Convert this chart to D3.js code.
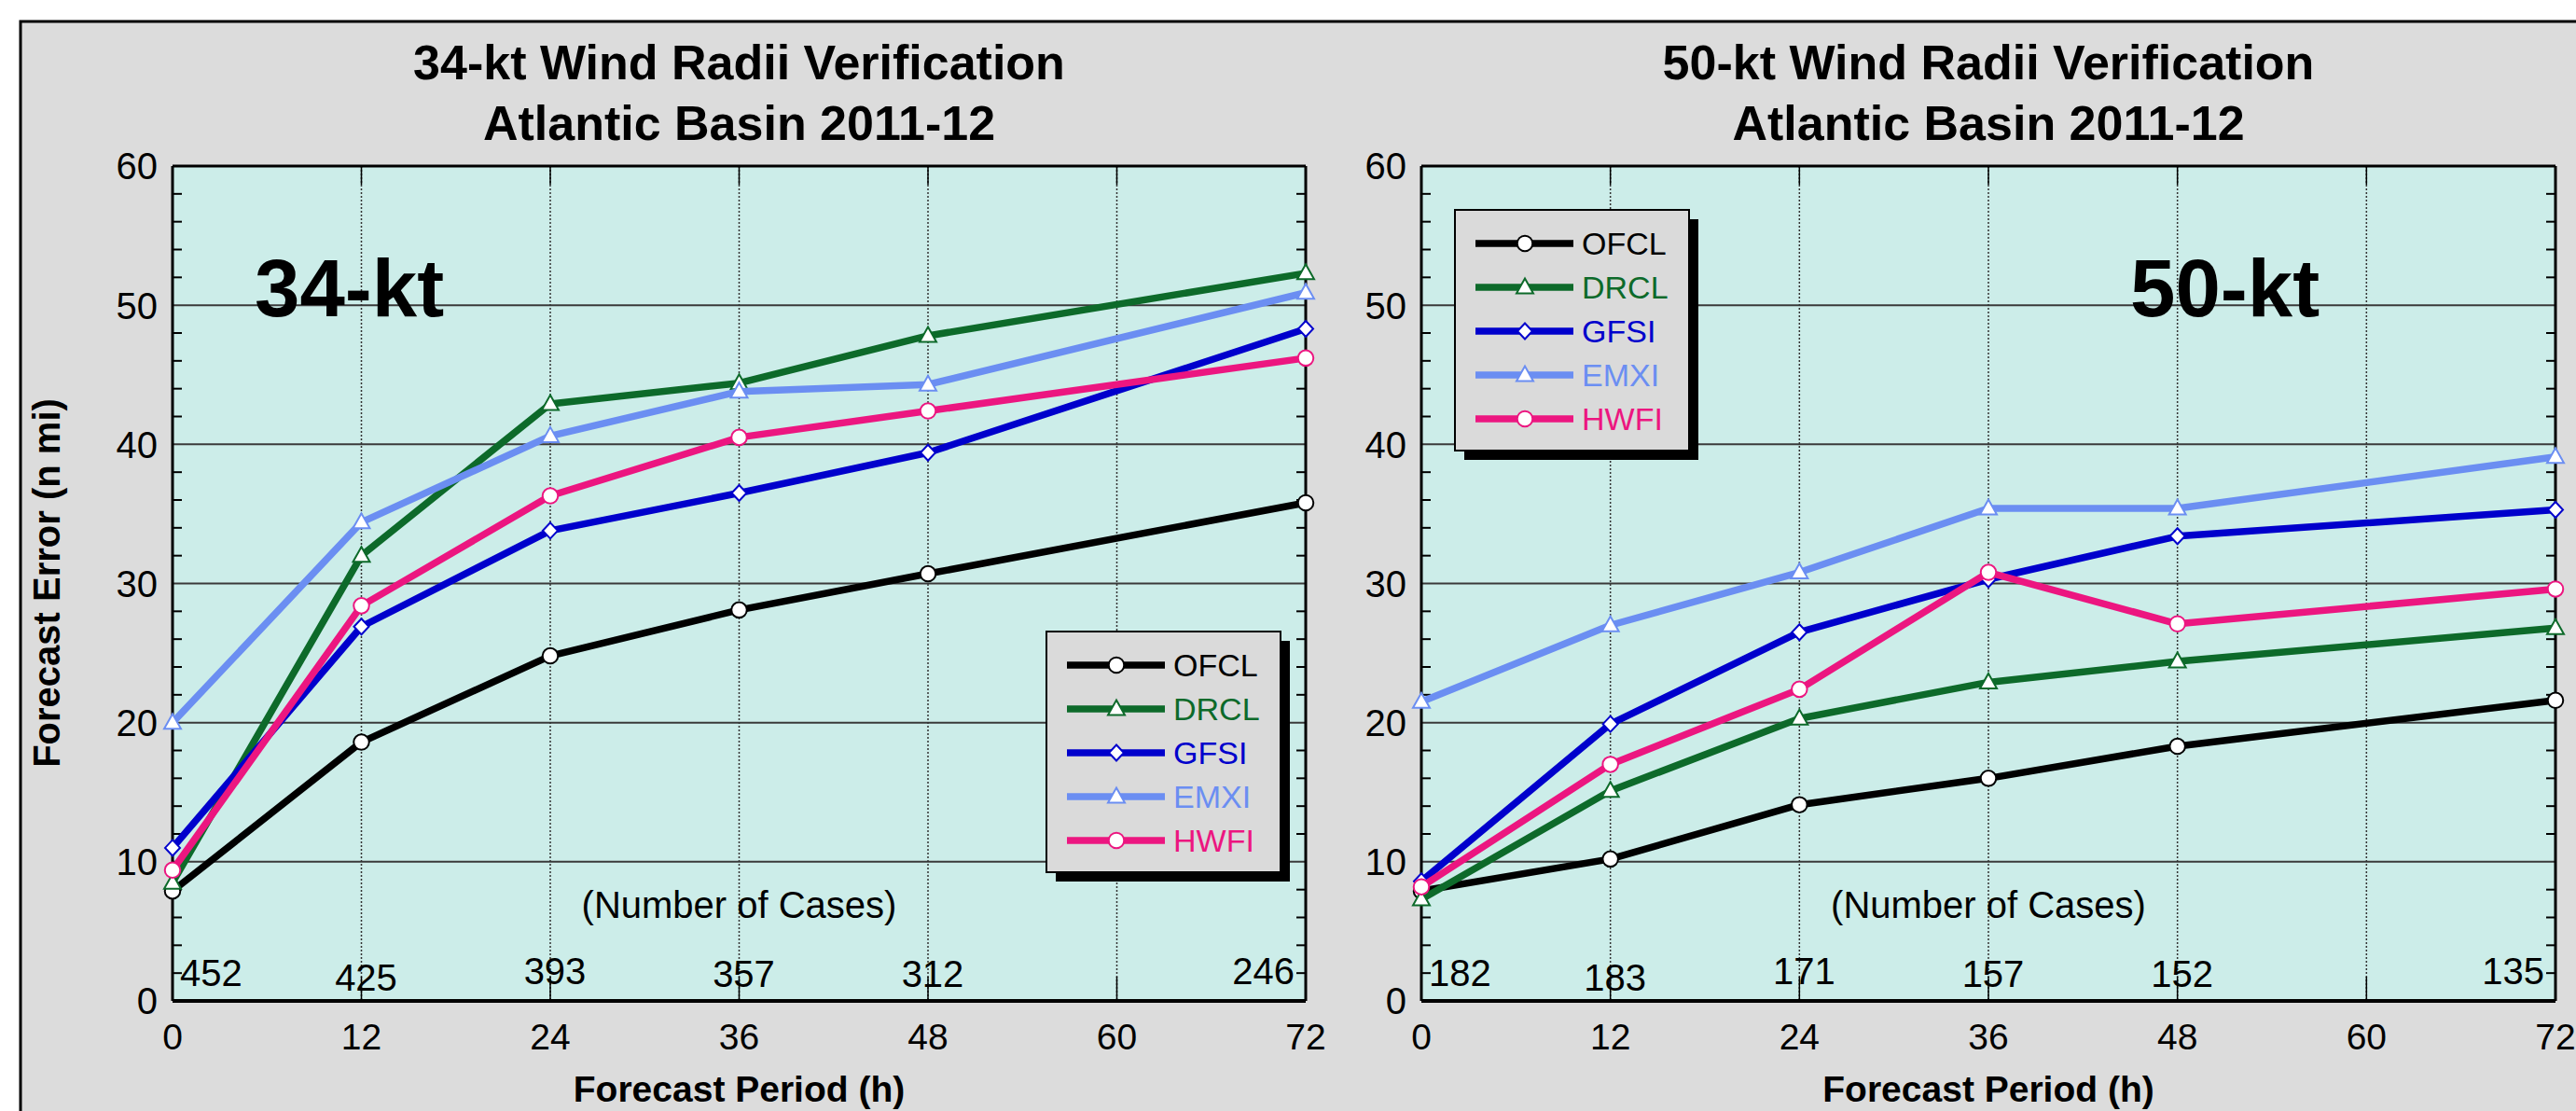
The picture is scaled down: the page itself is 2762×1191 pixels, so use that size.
<!DOCTYPE html>
<html>
<head>
<meta charset="utf-8">
<script src="https://cdn.jsdelivr.net/npm/d3@7"></script>
<style>
  body { margin: 0; background: #fff; }
  svg { display: block; font-family: "Liberation Sans", Arial, sans-serif; }
</style>
</head>
<body>
<svg id="chart" width="2762" height="1191"></svg>
<script>
const hours = [0, 12, 24, 36, 48, 72];
const xTicks = [0, 12, 24, 36, 48, 60, 72];
const yTicks = [0, 10, 20, 30, 40, 50, 60];
const models = ["OFCL", "DRCL", "GFSI", "EMXI", "HWFI"];

// 34-kt wind radii errors (n mi)
const ofcl34 = [7.9, 18.6, 24.8, 28.1, 30.7, 35.8];
const drcl34 = [8.5, 32.0, 42.9, 44.4, 47.8, 52.3];
const gfsi34 = [11.0, 26.9, 33.8, 36.5, 39.4, 48.3];
const emxi34 = [20.0, 34.4, 40.6, 43.8, 44.3, 50.9];
const hwfi34 = [9.4, 28.4, 36.3, 40.5, 42.4, 46.2];
const cases34 = [452, 425, 393, 357, 312, 246];

// 50-kt wind radii errors (n mi)
const ofcl50 = [7.9, 10.2, 14.1, 16.0, 18.3, 21.6];
const drcl50 = [7.3, 15.1, 20.3, 22.9, 24.4, 26.8];
const gfsi50 = [8.6, 19.9, 26.5, 30.3, 33.4, 35.3];
const emxi50 = [21.5, 27.0, 30.8, 35.4, 35.4, 39.1];
const hwfi50 = [8.2, 17.0, 22.4, 30.8, 27.1, 29.6];
const cases50 = [182, 183, 171, 157, 152, 135];

const colors = {OFCL: "#000000", DRCL: "#0d6a2a", GFSI: "#0000cc", EMXI: "#6b8ef2", HWFI: "#ec1680"};
const shapes = {OFCL: "circle", DRCL: "triangle", GFSI: "diamond", EMXI: "triangle", HWFI: "circle"};

const svg = d3.select("#chart");

// grey figure background with black frame on top/left
svg.append("rect")
  .attr("x", 22).attr("y", 23)
  .attr("width", 2800).attr("height", 1200)
  .attr("fill", "#dcdcdc")
  .attr("stroke", "#000").attr("stroke-width", 3);

function markerPath(shape) {
  if (shape == "circle") return d3.symbol(d3.symbolCircle, 215)();
  if (shape == "triangle") return "M0,-9.5L9,6.5L-9,6.5Z";
  return "M0,-8.5L8,0L0,8.5L-8,0Z";
}

function drawMarker(g, shape, color, x, y) {
  g.append("path")
    .attr("d", markerPath(shape))
    .attr("transform", "translate(" + x + "," + y + ")")
    .attr("fill", "#fff")
    .attr("stroke", color)
    .attr("stroke-width", 2);
}

function drawPanel(opts) {
  const top = 178, bottom = 1073;
  const x = d3.scaleLinear().domain([0, 72]).range([opts.x0, opts.x1]);
  const y = d3.scaleLinear().domain([0, 60]).range([bottom, top]);
  const g = svg.append("g");
  const cx = (opts.x0 + opts.x1) / 2;

  // titles
  g.append("text").attr("x", cx).attr("y", 85)
    .attr("text-anchor", "middle").attr("font-size", 52).attr("font-weight", "bold")
    .text(opts.title);
  g.append("text").attr("x", cx).attr("y", 150)
    .attr("text-anchor", "middle").attr("font-size", 52).attr("font-weight", "bold")
    .text("Atlantic Basin 2011-12");

  g.append("rect")
    .attr("x", opts.x0).attr("y", top)
    .attr("width", opts.x1 - opts.x0).attr("height", bottom - top)
    .attr("fill", "#ccede9");

  // horizontal grid
  g.selectAll(".hgrid").data(yTicks.slice(1, -1)).enter().append("line")
    .attr("x1", opts.x0).attr("x2", opts.x1)
    .attr("y1", d => y(d)).attr("y2", d => y(d))
    .attr("stroke", "#3a3a3a").attr("stroke-width", 2);

  // vertical dotted grid + short solid ticks
  const inner = xTicks.slice(1, -1);
  g.selectAll(".vgrid").data(inner).enter().append("line")
    .attr("x1", d => x(d)).attr("x2", d => x(d))
    .attr("y1", top).attr("y2", bottom)
    .attr("stroke", "#333").attr("stroke-width", 1.5)
    .attr("stroke-dasharray", "2,2");
  g.selectAll(".vtickb").data(inner).enter().append("line")
    .attr("x1", d => x(d)).attr("x2", d => x(d))
    .attr("y1", bottom - 26).attr("y2", bottom)
    .attr("stroke", "#000").attr("stroke-width", 1.5);
  g.selectAll(".vtickt").data(inner).enter().append("line")
    .attr("x1", d => x(d)).attr("x2", d => x(d))
    .attr("y1", top).attr("y2", top + 20)
    .attr("stroke", "#000").attr("stroke-width", 1.5);

  // minor ticks every 2 units, inside on both sides
  const minor = d3.range(2, 60, 2).filter(d => d % 10 != 0);
  g.selectAll(".mtl").data(minor).enter().append("line")
    .attr("x1", opts.x0).attr("x2", opts.x0 + 10)
    .attr("y1", d => y(d)).attr("y2", d => y(d))
    .attr("stroke", "#000").attr("stroke-width", 2);
  g.selectAll(".mtr").data(minor).enter().append("line")
    .attr("x1", opts.x1 - 10).attr("x2", opts.x1)
    .attr("y1", d => y(d)).attr("y2", d => y(d))
    .attr("stroke", "#000").attr("stroke-width", 2);

  // frame
  g.append("line").attr("x1", opts.x0).attr("x2", opts.x1).attr("y1", top).attr("y2", top)
    .attr("stroke", "#000").attr("stroke-width", 3);
  g.append("line").attr("x1", opts.x0).attr("x2", opts.x1).attr("y1", bottom).attr("y2", bottom)
    .attr("stroke", "#000").attr("stroke-width", 4);
  g.append("line").attr("x1", opts.x0).attr("x2", opts.x0).attr("y1", top).attr("y2", bottom)
    .attr("stroke", "#000").attr("stroke-width", 3);
  g.append("line").attr("x1", opts.x1).attr("x2", opts.x1).attr("y1", top).attr("y2", bottom)
    .attr("stroke", "#000").attr("stroke-width", 3);

  // tick labels
  g.selectAll(".ylab").data(yTicks).enter().append("text")
    .attr("x", opts.x0 - 16).attr("y", d => y(d)).attr("dy", "0.36em")
    .attr("text-anchor", "end").attr("font-size", 40)
    .text(d => d);
  g.selectAll(".xlab").data(xTicks).enter().append("text")
    .attr("x", d => x(d)).attr("y", 1125)
    .attr("text-anchor", "middle").attr("font-size", 39)
    .text(d => d);

  g.append("text").attr("x", cx).attr("y", 1181)
    .attr("text-anchor", "middle").attr("font-size", 39).attr("font-weight", "bold")
    .text("Forecast Period (h)");

  g.append("text").attr("x", cx).attr("y", 984)
    .attr("text-anchor", "middle").attr("font-size", 40)
    .text("(Number of Cases)");

  // case counts along the bottom
  const caseDy = [0, 5, -2, 1, 1, -2];
  g.selectAll(".cases").data(opts.cases).enter().append("text")
    .attr("x", (d, i) => i == 0 ? x(hours[i]) + 8 : i == hours.length - 1 ? x(hours[i]) - 12 : x(hours[i]) + 5)
    .attr("y", (d, i) => 1057 + caseDy[i])
    .attr("text-anchor", (d, i) => i == 0 ? "start" : i == hours.length - 1 ? "end" : "middle")
    .attr("font-size", 40)
    .text(d => d);

  // big label
  g.append("text").attr("x", opts.labelX).attr("y", 339)
    .attr("font-size", 87).attr("font-weight", "bold")
    .text(opts.label);

  // series
  const line = d3.line().x((d, i) => x(hours[i])).y(d => y(d));
  models.forEach(function(m) {
    const vals = opts.series[m];
    g.append("path").datum(vals)
      .attr("d", line)
      .attr("fill", "none")
      .attr("stroke", colors[m]).attr("stroke-width", 7.5)
      .attr("stroke-linejoin", "round");
    vals.forEach(function(v, i) {
      drawMarker(g, shapes[m], colors[m], x(hours[i]), y(v));
    });
  });

  // legend
  const lx = opts.legend[0], ly = opts.legend[1];
  g.append("rect").attr("x", lx + 10).attr("y", ly + 10)
    .attr("width", 251).attr("height", 258).attr("fill", "#000");
  g.append("rect").attr("x", lx).attr("y", ly)
    .attr("width", 251).attr("height", 258)
    .attr("fill", "#dadada").attr("stroke", "#000").attr("stroke-width", 2);
  models.forEach(function(m, i) {
    const ry = ly + 36 + i * 47;
    g.append("line").attr("x1", lx + 22).attr("x2", lx + 127)
      .attr("y1", ry).attr("y2", ry)
      .attr("stroke", colors[m]).attr("stroke-width", 7.5);
    drawMarker(g, shapes[m], colors[m], lx + 75, ry);
    g.append("text").attr("x", lx + 136).attr("y", ry + 12)
      .attr("font-size", 34).attr("fill", colors[m])
      .text(m);
  });
}

drawPanel({
  x0: 185, x1: 1400,
  title: "34-kt Wind Radii Verification",
  label: "34-kt", labelX: 273,
  cases: cases34,
  legend: [1122, 677],
  series: {OFCL: ofcl34, DRCL: drcl34, GFSI: gfsi34, EMXI: emxi34, HWFI: hwfi34}
});

drawPanel({
  x0: 1524, x1: 2740,
  title: "50-kt Wind Radii Verification",
  label: "50-kt", labelX: 2284,
  cases: cases50,
  legend: [1560, 225],
  series: {OFCL: ofcl50, DRCL: drcl50, GFSI: gfsi50, EMXI: emxi50, HWFI: hwfi50}
});

// y-axis title (left only)
svg.append("text")
  .attr("transform", "translate(64,625) rotate(-90)")
  .attr("text-anchor", "middle").attr("font-size", 40).attr("font-weight", "bold")
  .text("Forecast Error (n mi)");
</script>
</body>
</html>
